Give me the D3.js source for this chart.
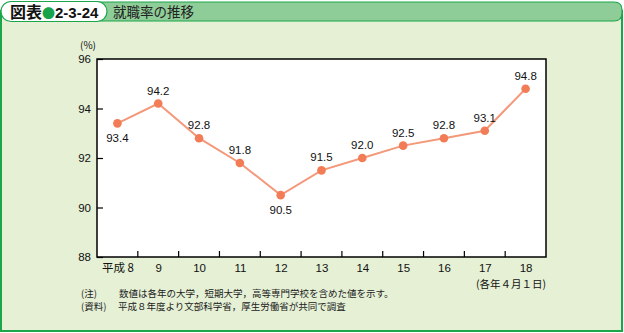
<!DOCTYPE html>
<html><head><meta charset="utf-8">
<script src="https://cdn.jsdelivr.net/npm/d3@7"></script>
<style>
body{margin:0;padding:0;background:#fff;}
svg{display:block;}
text{font-family:"Liberation Sans",Arial,sans-serif;}
.jp{font-family:"Noto Sans CJK JP",sans-serif;}
</style></head>
<body>
<script>
const categories = ["平成 8","9","10","11","12","13","14","15","16","17","18"];
const values = [93.4,94.2,92.8,91.8,90.5,91.5,92.0,92.5,92.8,93.1,94.8];
const labelBelow = [true,false,false,false,true,false,false,false,false,false,false];
const yTicks = [88,90,92,94,96];
const figNo = "2-3-24";
const title = "就職率の推移";
const notes = [["(注)","数値は各年の大学，短期大学，高等専門学校を含めた値を示す。"],["(資料)","平成８年度より文部科学省，厚生労働省が共同で調査"]];

const W=624,H=333;
const svg=d3.select("body").append("svg").attr("width",W).attr("height",H);
const green="#1ba64b", bg="#e5f0d5", head="#8fcd98";

svg.append("rect").attr("x",0).attr("y",0).attr("width",W).attr("height",H).attr("fill","#fff");
svg.append("rect").attr("x",1).attr("y",10).attr("width",621).attr("height",321).attr("fill",bg);
svg.append("path").attr("d","M1,10 V331 H622 V10").attr("fill","none").attr("stroke",green).attr("stroke-width",2);
svg.append("path").attr("d","M40,2 H614 Q622,2 622,10 V13 Q622,21 614,21 H40 Z").attr("fill",head).attr("stroke",green).attr("stroke-width",1.2);
svg.append("rect").attr("x",1).attr("y",1.5).attr("width",106).attr("height",20).attr("rx",10).attr("fill","#fff").attr("stroke",green).attr("stroke-width",1.2);
const ht=svg.append("text").attr("x",10).attr("y",18).attr("font-size",16).attr("font-weight","bold").attr("class","jp");
ht.append("tspan").text("図表").attr("fill","#111");
ht.append("tspan").text("●").attr("fill","#16a34a").attr("font-size",13);
ht.append("tspan").text(figNo).attr("fill","#111").attr("font-family","Liberation Sans, Arial").attr("font-size",15);
svg.append("text").attr("class","jp").attr("x",113).attr("y",17).attr("font-size",13.5).attr("fill","#222").text(title);

const x0=97,x1=546,y0=59,y1=257;
svg.append("rect").attr("x",x0).attr("y",y0).attr("width",x1-x0).attr("height",y1-y0).attr("fill","#fff");
const x=d3.scalePoint().domain(categories).range([x0,x1]).padding(0.5);
const xb=d3.scaleBand().domain(categories).range([x0,x1]);
const y=d3.scaleLinear().domain([88,96]).range([y1,y0]);

svg.append("rect").attr("x",x0).attr("y",y0).attr("width",x1-x0).attr("height",y1-y0).attr("fill","none").attr("stroke","#000").attr("stroke-width",1.5);

const ya=svg.append("g").attr("transform",`translate(${x0},0)`)
 .call(d3.axisRight(y).tickValues(yTicks).tickSize(6).tickFormat(""));
ya.select(".domain").remove();
ya.selectAll("line").attr("stroke","#000").attr("stroke-width",1.2);
svg.selectAll(".ylab").data(yTicks).join("text").attr("x",x0-6).attr("y",d=>y(d)+4).attr("text-anchor","end").attr("font-size",11.5).attr("fill","#111").text(d=>d);
svg.append("text").attr("class","jp").attr("x",96).attr("y",49).attr("text-anchor","end").attr("font-size",10).attr("fill","#111").text("(%)");

const bounds=categories.slice(1).map(c=>xb(c));
svg.selectAll(".xt").data(bounds).join("line").attr("x1",d=>d).attr("x2",d=>d).attr("y1",y1).attr("y2",y1-6).attr("stroke","#000").attr("stroke-width",1.2);
const xa=svg.append("g").attr("transform",`translate(0,${y1})`).call(d3.axisBottom(x).tickSize(0).tickPadding(7));
xa.select(".domain").remove();
xa.selectAll("text").attr("font-size",11.5).attr("fill","#111").attr("font-family","Liberation Sans, Arial").attr("dy","0.71em");
xa.selectAll("text").filter(d=>d===categories[0]).attr("class","jp").attr("font-size",11.5);
svg.append("text").attr("class","jp").attr("x",546).attr("y",288).attr("text-anchor","end").attr("font-size",10.5).attr("fill","#111").text("(各年４月１日)");

const data=categories.map((c,i)=>({c,v:values[i],b:labelBelow[i]}));
svg.append("path").datum(data).attr("d",d3.line().x(d=>x(d.c)).y(d=>y(d.v))).attr("fill","none").attr("stroke","#f4987a").attr("stroke-width",2);
svg.selectAll(".pt").data(data).join("circle").attr("cx",d=>x(d.c)).attr("cy",d=>y(d.v)).attr("r",4.3).attr("fill","#f27c56");
svg.selectAll(".vl").data(data).join("text").attr("x",d=>x(d.c)).attr("y",d=>d.b?y(d.v)+19:y(d.v)-9).attr("text-anchor","middle").attr("font-size",11.5).attr("fill","#111").text(d=>d.v.toFixed(1));

notes.forEach((n,i)=>{
  svg.append("text").attr("class","jp").attr("x",81).attr("y",297+i*13).attr("font-size",9.5).attr("fill","#222").text(n[0]);
  svg.append("text").attr("class","jp").attr("x",i===0?119:118).attr("y",297+i*13).attr("font-size",9.5).attr("fill","#222").text(n[1]);
});
</script>
</body></html>
